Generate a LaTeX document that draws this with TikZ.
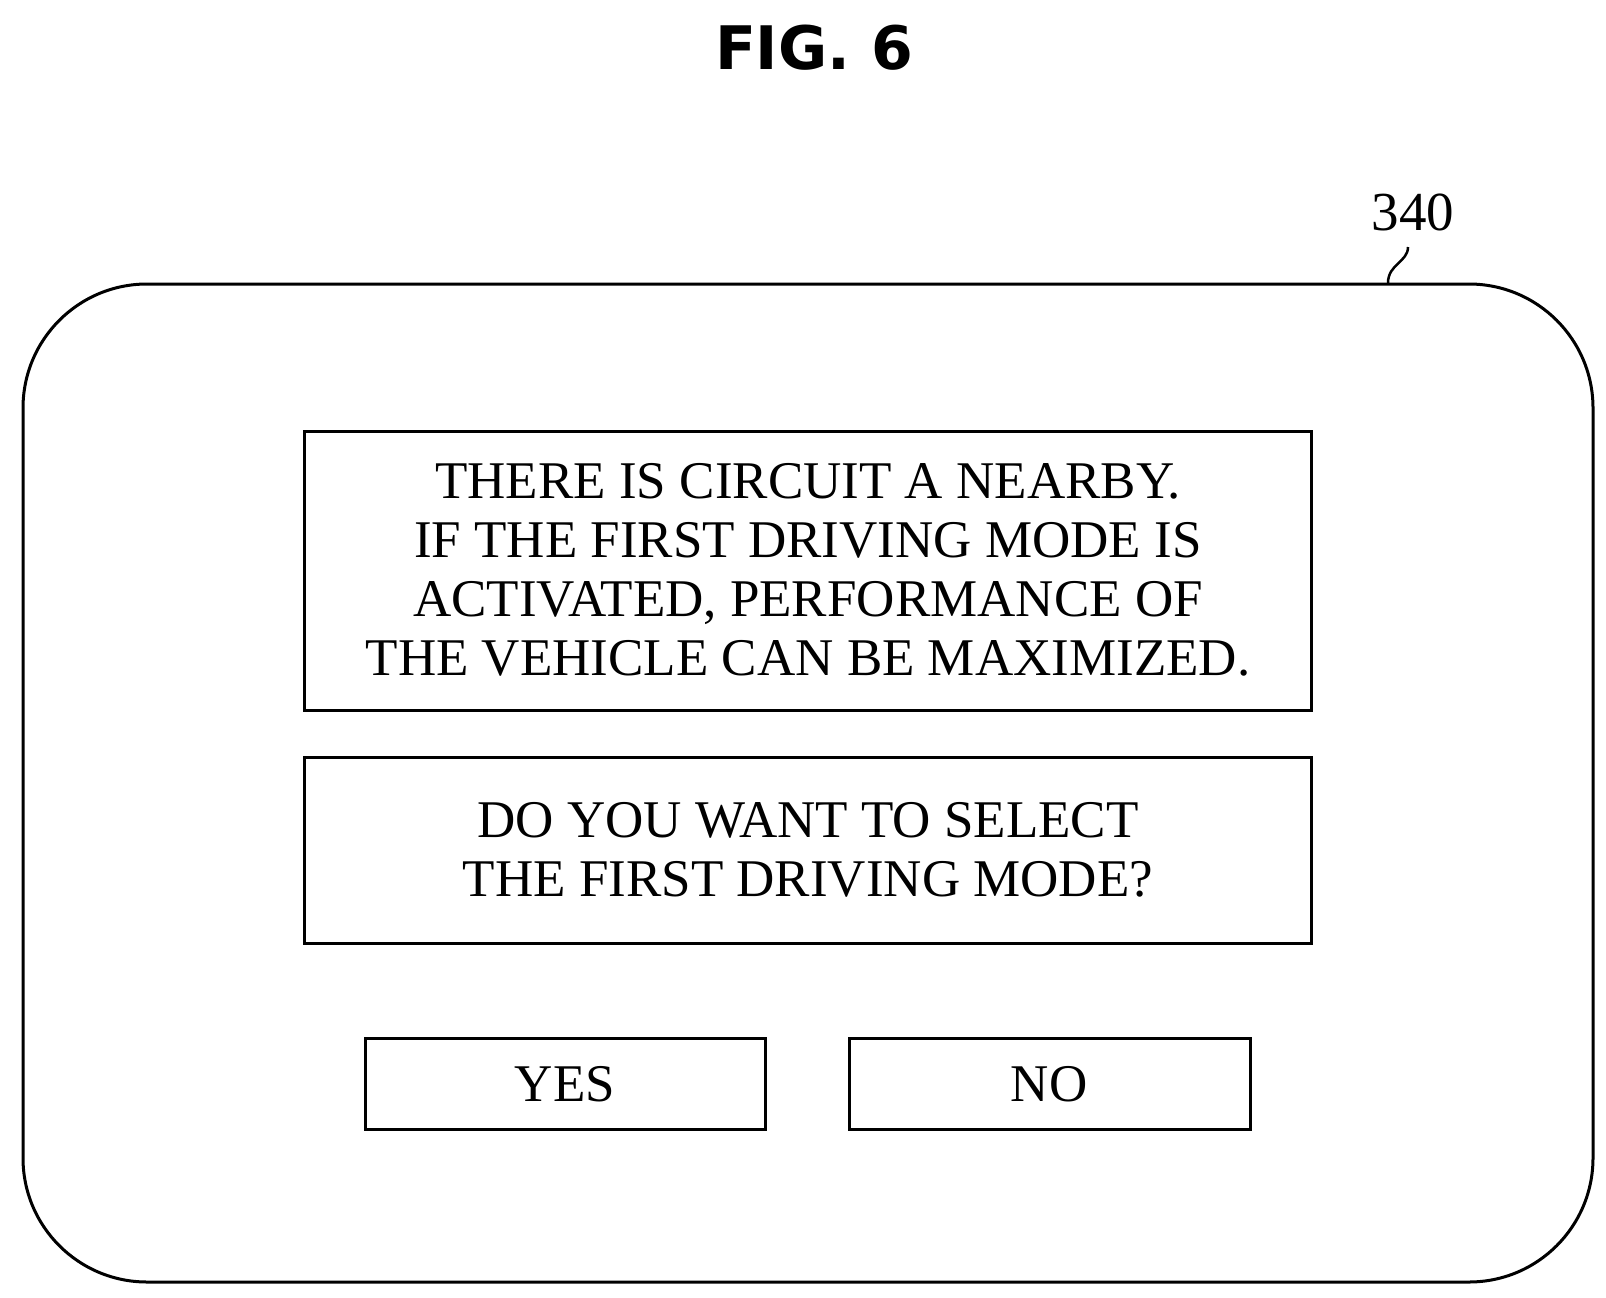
\documentclass[tikz,border=0pt]{standalone}
\usepackage{fontspec}
\setmainfont{Liberation Serif}
\newfontfamily\titlefont{DejaVu Sans}
\begin{document}
\begin{tikzpicture}[x=1pt,y=-1pt,line width=3pt,
  box/.style={draw,line width=3pt},
  txt/.style={font=\fontsize{53}{59}\selectfont,align=center}]
\useasboundingbox (0,0) rectangle (1606,1298);
\node[font=\titlefont\bfseries\fontsize{60}{60}\selectfont] (title) at (814,48) {FIG. 6};
\draw[rounded corners=124pt] (23,284) rectangle (1593,1282);
\node (outer) at (808,783) {};
\draw[box] (304,431) rectangle (1311,710);
\node[txt] (msg) at (808,570) {THERE IS CIRCUIT A NEARBY.\\ IF THE FIRST DRIVING MODE IS\\ACTIVATED, PERFORMANCE OF\\THE VEHICLE CAN BE MAXIMIZED.};
\draw[box] (304,757) rectangle (1311,943);
\node[txt] (q) at (808,850) {DO YOU WANT TO SELECT\\THE FIRST DRIVING MODE?};
\draw[box] (365,1038) rectangle (765,1129);
\node[txt] (yes) at (565,1084) {YES};
\draw[box] (849,1038) rectangle (1250,1129);
\node[txt] (no) at (1049,1084) {NO};
\node[font=\fontsize{55}{55}\selectfont] (ref) at (1413,212) {340};
\coordinate (a) at (1408,247);
\coordinate (b) at (1388,283);
\draw[line width=2.5pt] (a) .. controls (1408,262) and (1388,264) .. (b);
\end{tikzpicture}
\end{document}
